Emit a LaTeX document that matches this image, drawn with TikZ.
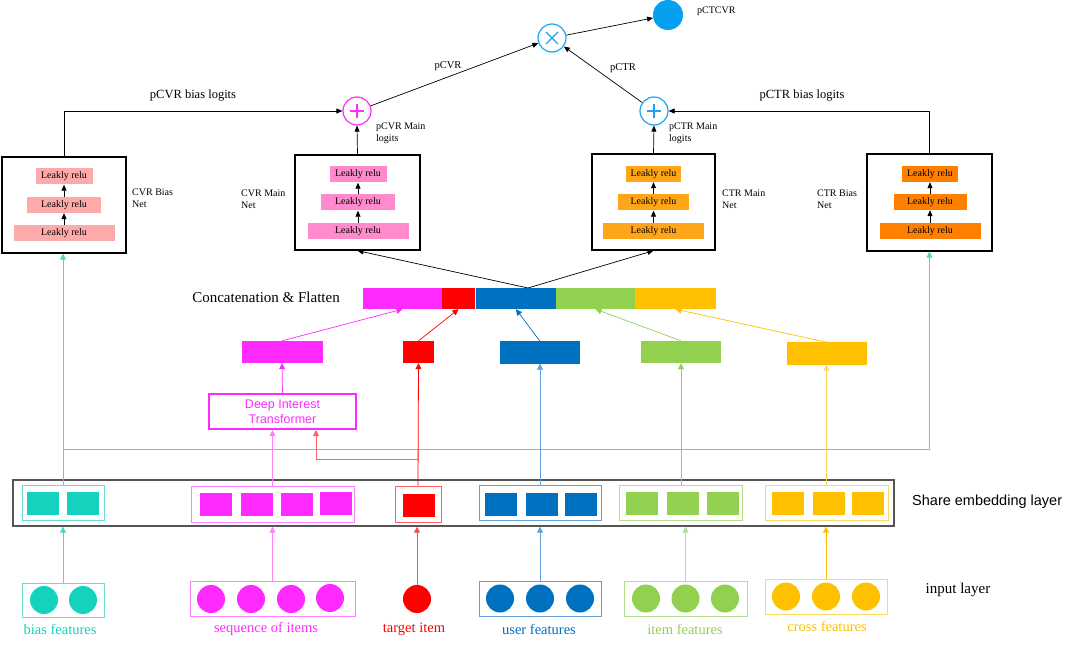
\documentclass[tikz,border=0pt]{standalone}
\usepackage{fontspec}
\setmainfont{Liberation Serif}
\newfontfamily\hv{Liberation Sans}
\usetikzlibrary{arrows.meta}
\definecolor{cteal}{HTML}{14D2BE}
\definecolor{ctealL}{HTML}{66DDD0}
\definecolor{cmag}{HTML}{FF2AFF}
\definecolor{cmagL}{HTML}{FF80FF}
\definecolor{cred}{HTML}{FF0000}
\definecolor{credL}{HTML}{FF6060}
\definecolor{cblue}{HTML}{0070C0}
\definecolor{cblueL}{HTML}{5FA0D8}
\definecolor{cgreen}{HTML}{92D050}
\definecolor{cgreenL}{HTML}{B5DF8C}
\definecolor{cyel}{HTML}{FFC000}
\definecolor{cyelL}{HTML}{FFD860}
\definecolor{reluA}{HTML}{FFAAAA}
\definecolor{reluB}{HTML}{FF8ACC}
\definecolor{reluC}{HTML}{FFA51A}
\definecolor{reluD}{HTML}{FF8000}
\definecolor{csky}{HTML}{1AA4F2}
\definecolor{cskyF}{HTML}{05A0F0}
\definecolor{cgray}{HTML}{555555}
\begin{document}
\begin{tikzpicture}[x=1pt,y=-1pt,
  arr/.style={-{Triangle[width=6pt,length=6pt]}, line width=0.8pt},
  arrs/.style={-{Triangle[width=5pt,length=6pt]}, line width=0.7pt, black},
  net/.style={draw=black, line width=1.3pt, inner sep=0pt, fill=white},
  relu/.style={inner sep=0pt, font=\fontsize{10}{12}\selectfont, minimum height=16pt},
  lbl/.style={font=\fontsize{10}{12}\selectfont, align=left, anchor=west, inner sep=0pt},
  opc/.style={circle, draw, line width=1.2pt, fill=white, minimum size=28pt, inner sep=0pt},
  seg/.style={inner sep=0pt, minimum height=21pt},
  mid/.style={inner sep=0pt, minimum height=22pt},
  grp/.style={draw, line width=1pt, inner sep=0pt, minimum height=35pt},
  sq/.style={inner sep=0pt, minimum width=32pt, minimum height=23pt},
  dot/.style={circle, inner sep=0pt, minimum size=28pt},
  feat/.style={font=\fontsize{14.5}{16}\selectfont, inner sep=0pt}
]
\useasboundingbox (0,0) rectangle (1080,647);

% ---------- top ----------
\node[circle, fill=cskyF, minimum size=30pt, inner sep=0pt] (pctcvr) at (668,15) {};
\node[lbl] (lpctcvr) at (697,11) {pCTCVR};
\node[opc, draw=csky] (times) at (552,38) {};
\draw[csky, line width=1.2pt] ([shift={(-6,-6)}]times.center) -- ([shift={(6,6)}]times.center)
  ([shift={(-6,6)}]times.center) -- ([shift={(6,-6)}]times.center);
\node[opc, draw=cmag] (pcvr) at (357,111) {};
\draw[cmag, line width=1.2pt] ([xshift=-7pt]pcvr.center) -- ([xshift=7pt]pcvr.center)
  ([yshift=-7pt]pcvr.center) -- ([yshift=7pt]pcvr.center);
\node[opc, draw=csky] (pctr) at (654,111) {};
\draw[csky, line width=1.2pt] ([xshift=-7pt]pctr.center) -- ([xshift=7pt]pctr.center)
  ([yshift=-7pt]pctr.center) -- ([yshift=7pt]pctr.center);

\draw[arrs] (times) -- (pctcvr);
\draw[arrs] (pcvr) -- (times);
\node[font=\fontsize{10.5}{12}\selectfont, inner sep=0pt] (lpcvr) at (448,66) {pCVR};
\draw[arrs] (pctr) -- (times);
\node[font=\fontsize{10.5}{12}\selectfont, inner sep=0pt] (lpctr) at (623,68) {pCTR};

\node[lbl] (lcvrml) at (376,133) {pCVR Main\\logits};
\node[lbl] (lctrml) at (669,133) {pCTR Main\\logits};

% ---------- nets ----------
\node[net, minimum width=124pt, minimum height=96pt] (cvrb) at (64,205) {};
\node[relu, fill=reluA, minimum width=57pt] (cvrb3) at (64,176.5) {Leakly relu};
\node[relu, fill=reluA, minimum width=74pt] (cvrb2) at (64,205) {Leakly relu};
\node[relu, fill=reluA, minimum width=101pt] (cvrb1) at (64,233.5) {Leakly relu};
\draw[arrs] (cvrb1) -- (cvrb2); \draw[arrs] (cvrb2) -- (cvrb3);
\node[lbl] (lcvrb) at (132,198) {CVR Bias\\Net};

\node[net, minimum width=125pt, minimum height=95pt] (cvrm) at (357.5,202.5) {};
\node[relu, fill=reluB, minimum width=57pt] (cvrm3) at (358,174.5) {Leakly relu};
\node[relu, fill=reluB, minimum width=74pt] (cvrm2) at (358,202.5) {Leakly relu};
\node[relu, fill=reluB, minimum width=101pt] (cvrm1) at (358,231) {Leakly relu};
\draw[arrs] (cvrm1) -- (cvrm2); \draw[arrs] (cvrm2) -- (cvrm3);
\node[lbl] (lcvrm) at (241,199) {CVR Main\\Net};

\node[net, minimum width=123pt, minimum height=96pt] (ctrm) at (653.5,202) {};
\node[relu, fill=reluC, minimum width=55pt] (ctrm3) at (653.5,174) {Leakly relu};
\node[relu, fill=reluC, minimum width=71pt] (ctrm2) at (653.5,202.5) {Leakly relu};
\node[relu, fill=reluC, minimum width=101pt] (ctrm1) at (653.5,231) {Leakly relu};
\draw[arrs] (ctrm1) -- (ctrm2); \draw[arrs] (ctrm2) -- (ctrm3);
\node[lbl] (lctrm) at (722,199) {CTR Main\\Net};

\node[net, minimum width=125pt, minimum height=97pt] (ctrb) at (929.5,202.5) {};
\node[relu, fill=reluD, minimum width=56pt] (ctrb3) at (930,174) {Leakly relu};
\node[relu, fill=reluD, minimum width=73pt] (ctrb2) at (930,202) {Leakly relu};
\node[relu, fill=reluD, minimum width=101pt] (ctrb1) at (930,231) {Leakly relu};
\draw[arrs] (ctrb1) -- (ctrb2); \draw[arrs] (ctrb2) -- (ctrb3);
\node[lbl] (lctrb) at (817,199) {CTR Bias\\Net};

\draw[arrs] (cvrb.north) |- (pcvr.west);
\node[font=\fontsize{12.5}{14}\selectfont] (lcvrbl) at (193,96) {pCVR bias logits};
\draw[arrs] (ctrb.north) |- (pctr.east);
\node[font=\fontsize{12.5}{14}\selectfont] (lctrbl) at (802,96) {pCTR bias logits};
\draw[arrs] (cvrm.north) -- (pcvr.south);
\draw[arrs] (ctrm.north) -- (pctr.south);

% ---------- concat ----------
\node[seg, fill=cmag, minimum width=79pt] (cc1) at (402.5,298.5) {};
\node[seg, fill=cred, minimum width=33pt] (cc2) at (458.5,298.5) {};
\node[seg, fill=cblue, minimum width=80pt] (cc3) at (516,298.5) {};
\node[seg, fill=cgreen, minimum width=79pt] (cc4) at (595.5,298.5) {};
\node[seg, fill=cyel, minimum width=81pt] (cc5) at (675.5,298.5) {};
\node[font=\fontsize{15}{17}\selectfont, inner sep=0pt] (lconcat) at (266,297) {Concatenation \& Flatten};
\coordinate (apex) at (528,288);
\draw[arrs] (apex) -- (cvrm.south);
\draw[arrs] (apex) -- (ctrm.south);

% ---------- middle boxes ----------
\node[mid, fill=cmag, minimum width=81pt] (m1) at (282,352) {};
\node[mid, fill=cred, minimum width=31pt] (m2) at (418.5,352) {};
\node[mid, fill=cblue, minimum width=80pt] (m3) at (540,352.5) {};
\node[mid, fill=cgreen, minimum width=80pt] (m4) at (681,352) {};
\node[mid, fill=cyel, minimum width=80pt] (m5) at (827,353.5) {};
\draw[arr, cmag, line width=0.7pt] (m1.north) -- (cc1.south);
\draw[arr, cred, line width=0.7pt] (m2.north) -- (cc2.south);
\draw[arr, cblue, line width=0.7pt] (m3.north) -- (cc3.south);
\draw[arr, cgreen, line width=0.7pt] (m4.north) -- (cc4.south);
\draw[arr, cyel, line width=0.7pt] (m5.north) -- (cc5.south);

\node[draw=cmag, line width=2pt, minimum width=147pt, minimum height=35pt, inner sep=0pt,
  text=cmag, align=center, font=\hv\fontsize{12.5}{15}\selectfont] (dit) at (282.5,411.5) {Deep Interest\\Transformer};
\draw[arr, cmag, line width=0.7pt] (dit.north) -- (m1.south);

% ---------- share embedding ----------
\node[draw=cgray, line width=1.3pt, minimum width=881pt, minimum height=46pt, inner sep=0pt] (share) at (453.5,503) {};
\node[font=\hv\fontsize{14.5}{16}\selectfont, anchor=west, inner sep=0pt] (lshare) at (912,502) {Share embedding layer};

\node[grp, draw=ctealL, minimum width=82pt] (eb1) at (63,502.5) {};
\node[sq, fill=cteal] (eb1a) at (43,503.5) {};
\node[sq, fill=cteal] (eb1b) at (83,503.5) {};

\node[grp, draw=cmagL, minimum width=163pt, minimum height=36pt] (eb2) at (272.5,504) {};
\node[sq, fill=cmag] (eb2a) at (216,504.5) {};
\node[sq, fill=cmag] (eb2b) at (257,504.5) {};
\node[sq, fill=cmag] (eb2c) at (297,504) {};
\node[sq, fill=cmag] (eb2d) at (336,503.5) {};

\node[grp, draw=credL, minimum width=46pt, minimum height=36pt] (eb3) at (418,504) {};
\node[sq, fill=cred] (eb3a) at (419,505.5) {};

\node[grp, draw=cblueL, minimum width=122pt] (eb4) at (540,503) {};
\node[sq, fill=cblue] (eb4a) at (500.5,504) {};
\node[sq, fill=cblue] (eb4b) at (541.5,504) {};
\node[sq, fill=cblue] (eb4c) at (581,504) {};

\node[grp, draw=cgreenL, minimum width=123pt] (eb5) at (680.5,502.5) {};
\node[sq, fill=cgreen] (eb5a) at (642,503.5) {};
\node[sq, fill=cgreen] (eb5b) at (683,503.5) {};
\node[sq, fill=cgreen] (eb5c) at (722.5,503) {};

\node[grp, draw=cyelL, minimum width=123pt] (eb6) at (826.5,502.5) {};
\node[sq, fill=cyel] (eb6a) at (787.5,503) {};
\node[sq, fill=cyel] (eb6b) at (828.5,503) {};
\node[sq, fill=cyel] (eb6c) at (868,503) {};

% ---------- upward connectors ----------
\coordinate (tbr) at (63,449);
\draw[cteal!80, line width=0.8pt] (tbr) -- (tbr -| ctrb.south);
\draw[arr, cteal!80] (tbr -| ctrb.south) -- (ctrb.south);
\draw[arr, cteal!80] (eb1.north) -- (eb1.north |- cvrb.south);
\draw[arr, cmagL] (eb2.north) -- (eb2.north |- dit.south);
\draw[arr, cred] (eb3.north) -- (m2.south);
\coordinate (rbr) at (418,459);
\coordinate (rdit) at (316,430);
\draw[arr, credL] (rbr) -| (rdit);
\draw[arr, cblueL] (eb4.north) -- (m3.south);
\draw[arr, cgreen] (681,485) -- (m4.south);
\draw[arr, cyelL] (eb6.north) -- (eb6.north |- m5.south);

% ---------- input layer ----------
\node[grp, draw=ctealL, minimum width=82pt, minimum height=34pt] (ib1) at (63,600) {};
\node[dot, fill=cteal] (ib1a) at (44,600) {};
\node[dot, fill=cteal] (ib1b) at (83,600) {};

\node[grp, draw=cmagL, minimum width=165pt] (ib2) at (272.5,598.5) {};
\node[dot, fill=cmag] (ib2a) at (211,599) {};
\node[dot, fill=cmag] (ib2b) at (251,599) {};
\node[dot, fill=cmag] (ib2c) at (291,599) {};
\node[dot, fill=cmag] (ib2d) at (330,598) {};

\node[dot, fill=cred] (ib3) at (417,599) {};

\node[grp, draw=cblueL, minimum width=122pt] (ib4) at (540,598.5) {};
\node[dot, fill=cblue] (ib4a) at (500,598.5) {};
\node[dot, fill=cblue] (ib4b) at (540,598.5) {};
\node[dot, fill=cblue] (ib4c) at (580,598.5) {};

\node[grp, draw=cgreenL, minimum width=123pt] (ib5) at (685.5,598.5) {};
\node[dot, fill=cgreen] (ib5a) at (646,598.5) {};
\node[dot, fill=cgreen] (ib5b) at (685.5,598.5) {};
\node[dot, fill=cgreen] (ib5c) at (725,598.5) {};

\node[grp, draw=cyelL, minimum width=122pt] (ib6) at (826,596.5) {};
\node[dot, fill=cyel] (ib6a) at (786,596.5) {};
\node[dot, fill=cyel] (ib6b) at (826,596.5) {};
\node[dot, fill=cyel] (ib6c) at (866,596.5) {};

\draw[arr, cteal!80] (ib1.north) -- (ib1.north |- share.south);
\draw[arr, cmagL] (ib2.north) -- (ib2.north |- share.south);
\draw[arr, cred!70] (ib3.north) -- (ib3.north |- share.south);
\draw[arr, cblueL] (ib4.north) -- (ib4.north |- share.south);
\draw[arr, cgreenL] (ib5.north) -- (ib5.north |- share.south);
\draw[arr, cyel] (ib6.north) -- (ib6.north |- share.south);

\node[feat, text=cteal] (lbias) at (60,629) {bias features};
\node[feat, text=cmag] (lseq) at (266,629) {sequence of items};
\node[feat, text=cred] (ltarget) at (414,629) {target item};
\node[feat, text=cblue] (luser) at (539,629) {user features};
\node[feat, text=cgreen] (litem) at (685,629) {item features};
\node[feat, text=cyel] (lcross) at (827,626) {cross features};
\node[font=\fontsize{15}{17}\selectfont, inner sep=0pt] (linput) at (958,590) {input layer};
\end{tikzpicture}
\end{document}
